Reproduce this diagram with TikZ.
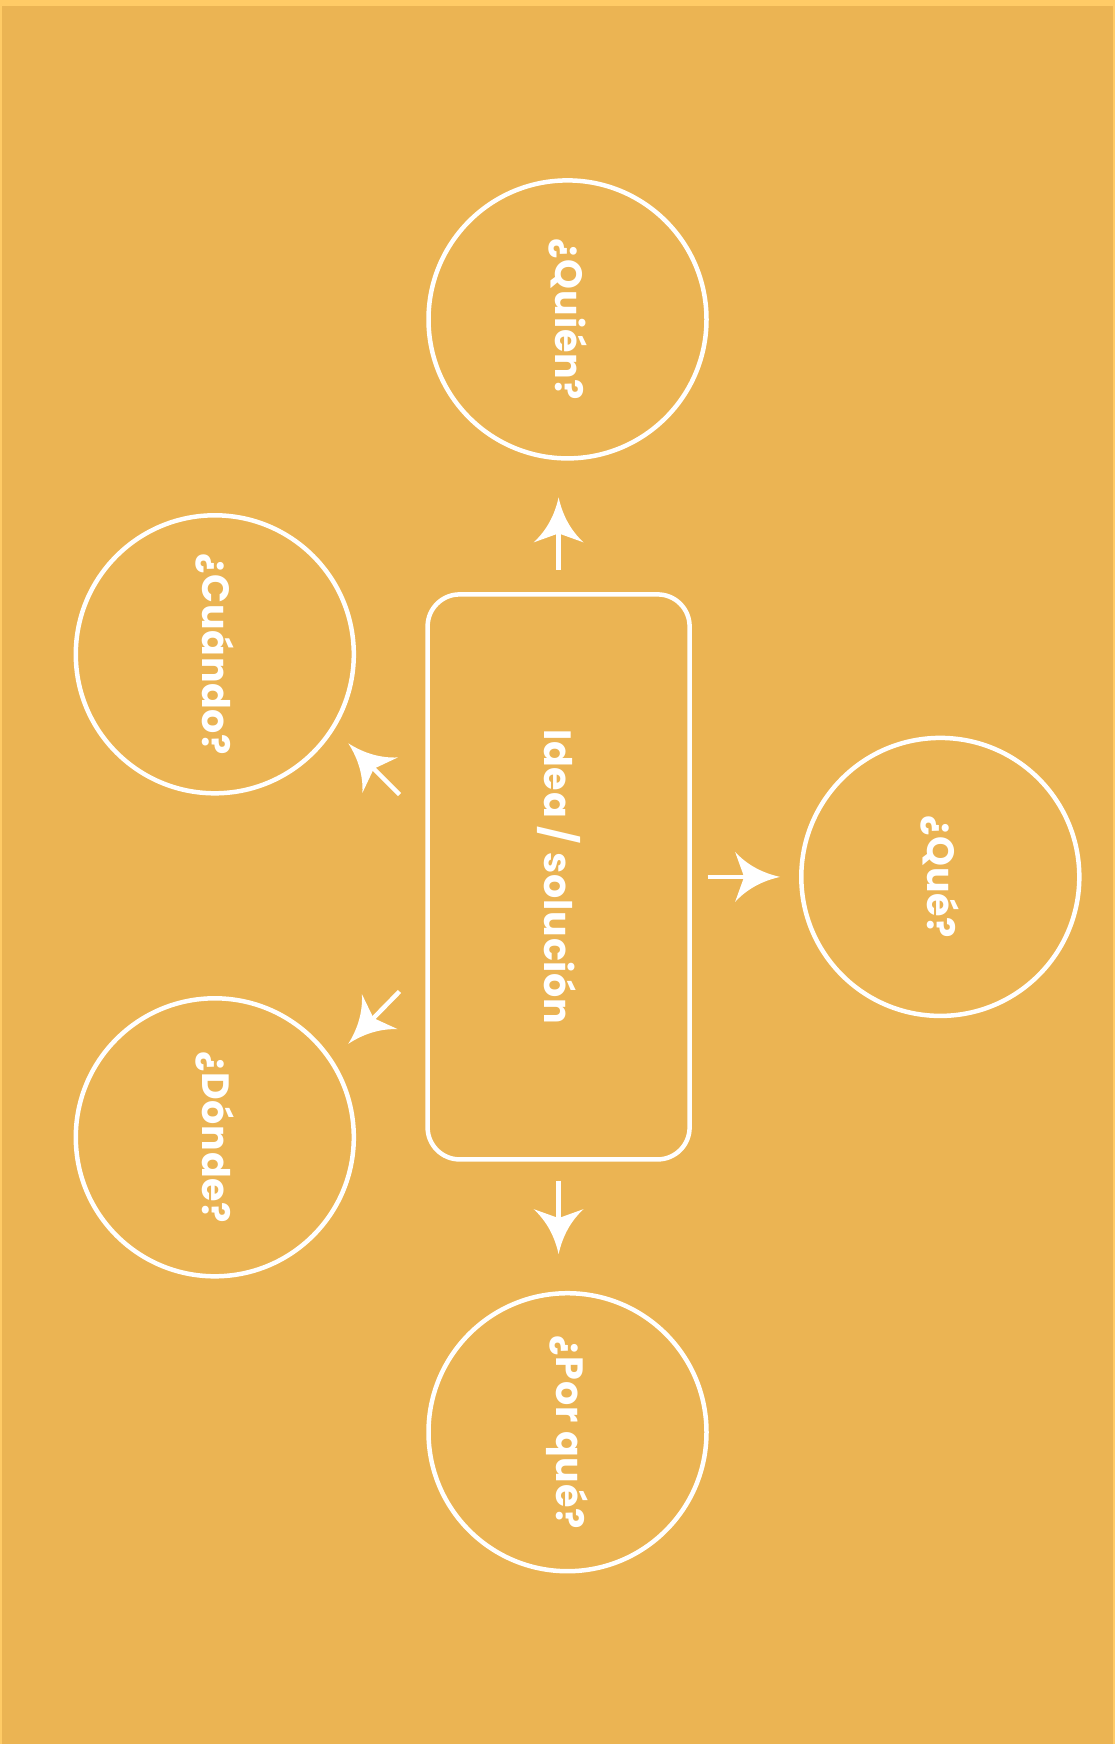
\documentclass[tikz,border=0pt]{standalone}
\usepackage{fontspec}
\setmainfont{Poppins}[UprightFont=* Bold]
\usetikzlibrary{arrows.meta}
\definecolor{bg}{HTML}{EBB453}
\definecolor{rim}{HTML}{FFCB66}
\pgfdeclarearrow{
  name=Curvy,
  setup code={
    \pgfarrowssettipend{0pt}
    \pgfarrowssetlineend{-30pt}
    \pgfarrowssetvisualbackend{-36pt}
    \pgfarrowssetbackend{-45pt}
    \pgfarrowsupperhullpoint{0pt}{0pt}
    \pgfarrowsupperhullpoint{-45pt}{25pt}
  },
  drawing code={
    \pgfpathmoveto{\pgfpointorigin}
    \pgfpathcurveto{\pgfpoint{-18pt}{4pt}}{\pgfpoint{-33pt}{12pt}}{\pgfpoint{-45pt}{25pt}}
    \pgfpathlineto{\pgfpoint{-36pt}{0pt}}
    \pgfpathlineto{\pgfpoint{-45pt}{-25pt}}
    \pgfpathcurveto{\pgfpoint{-33pt}{-12pt}}{\pgfpoint{-18pt}{-4pt}}{\pgfpointorigin}
    \pgfpathclose
    \pgfusepathqfill
  }
}
\begin{document}
\begin{tikzpicture}[x=1pt,y=1pt,
  txt/.style={text=white,font=\fontsize{38}{42}\addfontfeatures{LetterSpace=2}\selectfont,rotate=-90},
  q/.style={circle,draw=white,line width=4.5pt,minimum size=278pt,inner sep=0pt,txt},
  mainbox/.style={draw=white,line width=4.5pt,rounded corners=32pt,minimum width=565pt,minimum height=262pt,txt},
  arr/.style={draw=white,fill=white,line width=4.5pt,-{Curvy}}]
\fill[rim] (0,0) rectangle (1115,-1744);
\fill[bg] (2,-6) rectangle (1113,-1744);
\node[mainbox] (idea) at (558.6,-876.9) {Idea / solución};
\node[q] (quien) at (567.5,-319.4) {¿Quién?};
\node[q] (cuando) at (214.8,-654.3) {¿Cuándo?};
\node[q] (que) at (940.3,-876.9) {¿Qué?};
\node[q] (donde) at (214.8,-1137.3) {¿Dónde?};
\node[q] (porque) at (567.5,-1432.2) {¿Por qué?};
\coordinate (a1s) at (558.6,-569.7); \coordinate (a1e) at (558.6,-497.4);
\coordinate (a2s) at (558.6,-1180.7); \coordinate (a2e) at (558.6,-1254.1);
\coordinate (a3s) at (707.7,-876.9); \coordinate (a3e) at (780.1,-876.9);
\coordinate (a4s) at (399.5,-794.5); \coordinate (a4e) at (348.3,-743.3);
\coordinate (a5s) at (399.5,-991.5); \coordinate (a5e) at (348.3,-1043.8);
\draw[arr] (a1s) -- (a1e);
\draw[arr] (a2s) -- (a2e);
\draw[arr] (a3s) -- (a3e);
\draw[arr] (a4s) -- (a4e);
\draw[arr] (a5s) -- (a5e);
\end{tikzpicture}
\end{document}
